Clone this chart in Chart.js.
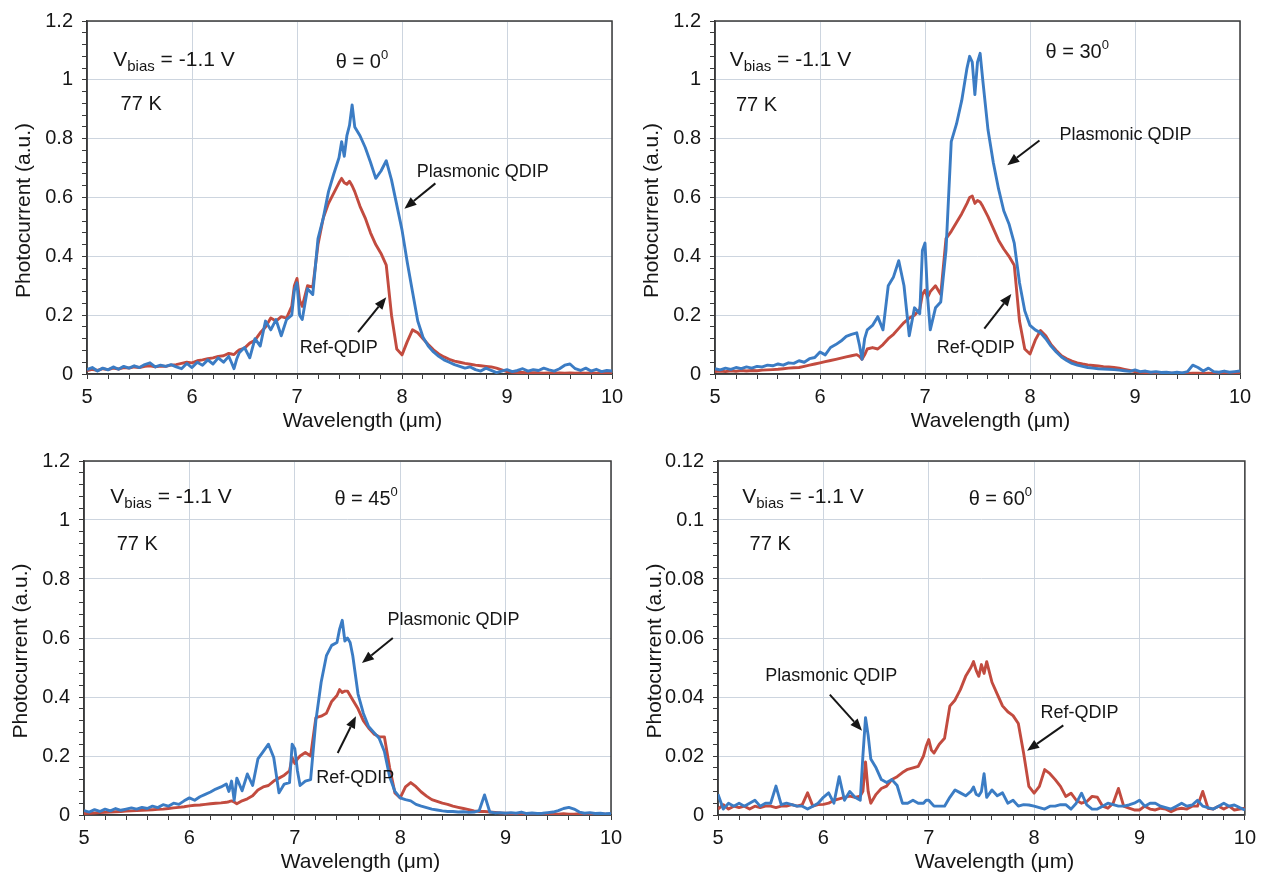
<!DOCTYPE html>
<html>
<head>
<meta charset="utf-8">
<title>Photocurrent spectra, Plasmonic vs Ref QDIP</title>
<script src="https://cdn.jsdelivr.net/npm/chart.js@4.4.1/dist/chart.umd.min.js"></script>
<style>
  html, body { margin: 0; padding: 0; background: #fff; }
  #wrap { position: relative; width: 1262px; height: 876px; }
  .panel { position: absolute; width: 631px; height: 438px; }
</style>
</head>
<body>
<div id="wrap">
  <div class="panel" style="left:0;top:0"><canvas id="c0" width="631" height="438"></canvas></div>
  <div class="panel" style="left:631px;top:0"><canvas id="c1" width="631" height="438"></canvas></div>
  <div class="panel" style="left:0;top:438px"><canvas id="c2" width="631" height="438"></canvas></div>
  <div class="panel" style="left:631px;top:438px"><canvas id="c3" width="631" height="438"></canvas></div>
</div>
<script>
// wavelength grid (um), a bit denser around the sharp features
const wavelength = [
  5.00, 5.05, 5.10, 5.15, 5.20, 5.25, 5.30, 5.35, 5.40, 5.45,
  5.50, 5.55, 5.60, 5.65, 5.70, 5.75, 5.80, 5.85, 5.90, 5.95,
  6.00, 6.05, 6.10, 6.15, 6.20, 6.25, 6.30, 6.35, 6.375, 6.40, 6.425, 6.45,
  6.50, 6.55, 6.60, 6.65, 6.70, 6.75, 6.80, 6.85, 6.90, 6.95,
  6.975, 7.00, 7.025, 7.05, 7.10, 7.15, 7.20, 7.25, 7.30, 7.35,
  7.40, 7.425, 7.45, 7.475, 7.50, 7.525, 7.55, 7.60, 7.65, 7.70, 7.75, 7.80, 7.85, 7.90, 7.95,
  8.00, 8.05, 8.10, 8.15, 8.20, 8.25, 8.30, 8.35, 8.40, 8.45,
  8.50, 8.55, 8.60, 8.65, 8.70, 8.75, 8.80, 8.85, 8.90, 8.95,
  9.00, 9.05, 9.10, 9.15, 9.20, 9.25, 9.30, 9.35, 9.40, 9.45,
  9.50, 9.55, 9.60, 9.65, 9.70, 9.75, 9.80, 9.85, 9.90, 9.95, 10.00
];

// theta = 0
const p1Plasmonic = [
  0.015, 0.022, 0.010, 0.020, 0.014, 0.024, 0.016, 0.026, 0.020, 0.028,
  0.022, 0.032, 0.038, 0.024, 0.030, 0.026, 0.032, 0.024, 0.018, 0.036,
  0.022, 0.040, 0.030, 0.048, 0.034, 0.055, 0.040, 0.060, 0.040, 0.018, 0.050, 0.072,
  0.090, 0.055, 0.120, 0.095, 0.180, 0.150, 0.185, 0.130, 0.185, 0.200,
  0.285, 0.310, 0.200, 0.185, 0.290, 0.270, 0.460, 0.530, 0.620, 0.680,
  0.735, 0.790, 0.740, 0.810, 0.845, 0.915, 0.840, 0.810, 0.770, 0.720, 0.665, 0.690, 0.725, 0.660, 0.575,
  0.490, 0.380, 0.280, 0.180, 0.125, 0.095, 0.075, 0.060, 0.048, 0.040,
  0.032, 0.026, 0.020, 0.024, 0.015, 0.010, 0.020, 0.012, 0.005, 0.010,
  0.015, 0.008, 0.012, 0.018, 0.010, 0.015, 0.012, 0.020, 0.014, 0.010,
  0.018, 0.030, 0.034, 0.018, 0.012, 0.020, 0.010, 0.016, 0.008, 0.012, 0.010
];
const p1Ref = [
  0.012, 0.016, 0.012, 0.018, 0.015, 0.020, 0.017, 0.022, 0.020, 0.024,
  0.022, 0.026, 0.028, 0.024, 0.027, 0.026, 0.030, 0.032, 0.036, 0.040,
  0.038, 0.045, 0.048, 0.052, 0.055, 0.060, 0.062, 0.070, 0.068, 0.066, 0.075, 0.082,
  0.088, 0.105, 0.115, 0.140, 0.160, 0.190, 0.180, 0.195, 0.190, 0.230,
  0.300, 0.325, 0.250, 0.230, 0.300, 0.295, 0.440, 0.530, 0.580, 0.615,
  0.650, 0.665, 0.650, 0.645, 0.655, 0.640, 0.620, 0.570, 0.530, 0.480, 0.440, 0.410, 0.370, 0.200, 0.085,
  0.065, 0.110, 0.150, 0.140, 0.120, 0.100, 0.082, 0.068, 0.058, 0.050,
  0.044, 0.040, 0.036, 0.033, 0.030, 0.028, 0.026, 0.024, 0.020, 0.014,
  0.008, 0.006, 0.005, 0.005, 0.004, 0.004, 0.004, 0.003, 0.004, 0.003,
  0.004, 0.003, 0.004, 0.003, 0.004, 0.003, 0.004, 0.003, 0.004, 0.003, 0.004
];

// theta = 30
const p2Plasmonic = [
  0.018, 0.014, 0.020, 0.016, 0.022, 0.018, 0.024, 0.020, 0.026, 0.024,
  0.030, 0.028, 0.034, 0.030, 0.038, 0.036, 0.045, 0.040, 0.052, 0.056,
  0.075, 0.065, 0.090, 0.100, 0.112, 0.128, 0.135, 0.140, 0.100, 0.050, 0.120, 0.150,
  0.165, 0.195, 0.150, 0.300, 0.330, 0.385, 0.300, 0.130, 0.225, 0.205,
  0.420, 0.445, 0.260, 0.150, 0.225, 0.245, 0.420, 0.790, 0.850, 0.930,
  1.040, 1.080, 1.060, 0.950, 1.060, 1.090, 1.000, 0.830, 0.720, 0.630, 0.555, 0.510, 0.445, 0.310, 0.215,
  0.165, 0.150, 0.140, 0.120, 0.095, 0.075, 0.058, 0.046, 0.036, 0.030,
  0.026, 0.022, 0.020, 0.018, 0.017, 0.016, 0.015, 0.013, 0.011, 0.009,
  0.014, 0.008, 0.010, 0.006, 0.008, 0.005, 0.006, 0.004, 0.006, 0.004,
  0.008, 0.030, 0.022, 0.010, 0.020, 0.008, 0.006, 0.010, 0.006, 0.008, 0.010
];
const p2Ref = [
  0.008, 0.010, 0.008, 0.011, 0.009, 0.012, 0.010, 0.012, 0.011, 0.013,
  0.014, 0.015, 0.016, 0.018, 0.020, 0.021, 0.022, 0.026, 0.030, 0.034,
  0.038, 0.042, 0.046, 0.050, 0.054, 0.058, 0.062, 0.066, 0.060, 0.050, 0.065, 0.085,
  0.090, 0.085, 0.100, 0.120, 0.135, 0.155, 0.175, 0.190, 0.200, 0.220,
  0.270, 0.285, 0.260, 0.280, 0.300, 0.270, 0.460, 0.485, 0.515, 0.545,
  0.580, 0.600, 0.605, 0.580, 0.590, 0.585, 0.570, 0.535, 0.495, 0.455, 0.425, 0.400, 0.370, 0.180, 0.085,
  0.068, 0.115, 0.148, 0.130, 0.100, 0.080, 0.062, 0.052, 0.044, 0.038,
  0.034, 0.031, 0.029, 0.027, 0.025, 0.024, 0.022, 0.020, 0.016, 0.012,
  0.008, 0.006, 0.005, 0.004, 0.004, 0.003, 0.003, 0.003, 0.002, 0.003,
  0.002, 0.003, 0.003, 0.002, 0.003, 0.002, 0.003, 0.002, 0.003, 0.002, 0.003
];

// theta = 45
const p3Plasmonic = [
  0.015, 0.010, 0.018, 0.012, 0.020, 0.014, 0.022, 0.016, 0.020, 0.024,
  0.020, 0.026, 0.022, 0.030, 0.025, 0.035, 0.030, 0.040, 0.036, 0.048,
  0.058, 0.050, 0.062, 0.070, 0.078, 0.088, 0.095, 0.105, 0.080, 0.115, 0.050, 0.125,
  0.082, 0.139, 0.100, 0.190, 0.215, 0.240, 0.195, 0.075, 0.105, 0.110,
  0.240, 0.225, 0.150, 0.100, 0.115, 0.120, 0.320, 0.450, 0.540, 0.575,
  0.585, 0.630, 0.660, 0.590, 0.600, 0.585, 0.540, 0.410, 0.345, 0.300, 0.280, 0.260, 0.215, 0.130, 0.080,
  0.058, 0.052, 0.048, 0.036, 0.030, 0.025, 0.020, 0.017, 0.014, 0.012,
  0.012, 0.010, 0.011, 0.009, 0.010, 0.015, 0.068, 0.010, 0.007, 0.008,
  0.006, 0.008, 0.006, 0.010, 0.005, 0.007, 0.005, 0.006, 0.008, 0.010,
  0.015, 0.022, 0.026, 0.020, 0.010, 0.006, 0.008, 0.005, 0.006, 0.004, 0.005
];
const p3Ref = [
  0.005, 0.006, 0.007, 0.008, 0.009, 0.010, 0.011, 0.012, 0.013, 0.014,
  0.015, 0.016, 0.017, 0.018, 0.019, 0.020, 0.022, 0.024, 0.026, 0.028,
  0.031, 0.033, 0.034, 0.036, 0.038, 0.040, 0.041, 0.043, 0.045, 0.048, 0.044, 0.038,
  0.048, 0.055, 0.065, 0.085, 0.095, 0.100, 0.115, 0.125, 0.135, 0.150,
  0.195, 0.175, 0.190, 0.200, 0.212, 0.200, 0.330, 0.335, 0.345, 0.385,
  0.405, 0.425, 0.415, 0.420, 0.420, 0.405, 0.390, 0.360, 0.320, 0.295, 0.275, 0.265, 0.265, 0.160, 0.075,
  0.058, 0.095, 0.110, 0.096, 0.078, 0.064, 0.052, 0.046, 0.040, 0.036,
  0.030, 0.026, 0.022, 0.018, 0.014, 0.012, 0.012, 0.010, 0.009, 0.007,
  0.006, 0.005, 0.005, 0.004, 0.004, 0.003, 0.004, 0.003, 0.003, 0.004,
  0.003, 0.004, 0.003, 0.003, 0.004, 0.003, 0.003, 0.003, 0.004, 0.003, 0.003
];

// theta = 60
const p4Plasmonic = [
  0.007, 0.002, 0.004, 0.003, 0.004, 0.003, 0.004, 0.005, 0.003, 0.004,
  0.004, 0.0098, 0.0035, 0.004, 0.0035, 0.003, 0.003, 0.002, 0.003, 0.004,
  0.006, 0.0075, 0.004, 0.013, 0.005, 0.008, 0.006, 0.005, 0.020, 0.033, 0.027, 0.019,
  0.016, 0.012, 0.011, 0.012, 0.010, 0.004, 0.004, 0.005, 0.004, 0.004,
  0.005, 0.005, 0.004, 0.003, 0.003, 0.003, 0.006, 0.0085, 0.0075, 0.0065,
  0.008, 0.0095, 0.007, 0.0065, 0.008, 0.014, 0.006, 0.0085, 0.0065, 0.0075, 0.004, 0.005, 0.003, 0.0035, 0.0034,
  0.003, 0.0025, 0.002, 0.003, 0.003, 0.0035, 0.0035, 0.002, 0.004, 0.0074,
  0.0034, 0.002, 0.002, 0.003, 0.004, 0.0035, 0.003, 0.003, 0.0034, 0.004,
  0.005, 0.003, 0.004, 0.004, 0.003, 0.0025, 0.002, 0.003, 0.004, 0.003,
  0.0034, 0.005, 0.003, 0.0025, 0.002, 0.003, 0.004, 0.003, 0.0034, 0.0025, 0.0017
];
const p4Ref = [
  0.002, 0.0035, 0.002, 0.003, 0.0025, 0.003, 0.002, 0.003, 0.0025, 0.003,
  0.003, 0.0025, 0.003, 0.003, 0.0035, 0.003, 0.0035, 0.0075, 0.003, 0.0035,
  0.0036, 0.004, 0.005, 0.0055, 0.006, 0.0064, 0.006, 0.0064, 0.008, 0.018, 0.008, 0.004,
  0.007, 0.009, 0.0098, 0.012, 0.013, 0.0144, 0.0155, 0.016, 0.0165, 0.020,
  0.0233, 0.0256, 0.022, 0.021, 0.024, 0.026, 0.0369, 0.039, 0.0425, 0.047,
  0.050, 0.052, 0.049, 0.047, 0.051, 0.048, 0.052, 0.045, 0.041, 0.037, 0.035, 0.0337, 0.031, 0.021, 0.0097,
  0.0074, 0.0097, 0.0154, 0.014, 0.012, 0.0097, 0.0063, 0.0074, 0.005, 0.004,
  0.0046, 0.0063, 0.006, 0.003, 0.0023, 0.004, 0.009, 0.003, 0.0023, 0.0017,
  0.0017, 0.003, 0.002, 0.0017, 0.0023, 0.002, 0.0011, 0.002, 0.0023, 0.002,
  0.003, 0.003, 0.008, 0.0023, 0.002, 0.003, 0.002, 0.003, 0.0017, 0.002, 0.0023
];

const angles = ['0', '30', '45', '60'];
const yMaxes = [1.2, 1.2, 1.2, 0.12];
const seriesNames = ['Plasmonic QDIP', 'Ref-QDIP'];

const FONT = "'Liberation Sans', Arial, sans-serif";
const BLUE = '#3b7cc4';
const RED = '#c24b3f';
const INK = '#161616';
const AXIS = '#3a3a3a';
const GRID = '#cdd5df';

// where each plot box sits in its canvas, and where the notes go (data units)
const panels = [
  { id: 'c0', plas: p1Plasmonic, ref: p1Ref, left: 87, right: 19, top: 18, xh: 64,
    bias: [5.25, 1.047], angle: [7.37, 1.041], temp: [5.32, 0.896],
    plasText: [8.14, 0.668], plasArrow: [8.318, 0.648, 8.023, 0.562],
    refText: [7.027, 0.072], refArrow: [7.581, 0.1426, 7.85, 0.2605] },
  { id: 'c1', plas: p2Plasmonic, ref: p2Ref, left: 84, right: 22, top: 18, xh: 64,
    bias: [5.14, 1.047], angle: [8.148, 1.075], temp: [5.20, 0.895],
    plasText: [8.28, 0.794], plasArrow: [8.09, 0.794, 7.784, 0.710],
    refText: [7.112, 0.070], refArrow: [7.565, 0.154, 7.822, 0.272] },
  { id: 'c2', plas: p3Plasmonic, ref: p3Ref, left: 84, right: 20, top: 23, xh: 61,
    bias: [5.25, 1.058], angle: [7.376, 1.052], temp: [5.31, 0.899],
    plasText: [7.88, 0.645], plasArrow: [7.93, 0.600, 7.637, 0.515],
    refText: [7.204, 0.108], refArrow: [7.407, 0.210, 7.58, 0.335] },
  { id: 'c3', plas: p4Plasmonic, ref: p4Ref, left: 87, right: 17, top: 23, xh: 61,
    bias: [5.23, 0.1058], angle: [7.379, 0.1052], temp: [5.30, 0.0899],
    plasText: [5.449, 0.0453], plasArrow: [6.061, 0.0408, 6.367, 0.0286],
    refText: [8.06, 0.0329], refArrow: [8.277, 0.0304, 7.933, 0.0218] }
];

function onStep(v, step) {
  const r = v / step;
  return Math.abs(r - Math.round(r)) < 1e-6;
}

function drawRich(ctx, x, y, parts) {
  let cx = x;
  parts.forEach(p => {
    ctx.font = p.size + 'px ' + FONT;
    ctx.fillText(p.text, cx, y + (p.dy || 0));
    cx += ctx.measureText(p.text).width;
  });
}

function drawArrow(ctx, x1, y1, x2, y2) {
  const a = Math.atan2(y2 - y1, x2 - x1);
  const head = 12, half = 4.8;
  const bx = x2 - head * Math.cos(a), by = y2 - head * Math.sin(a);
  ctx.strokeStyle = INK;
  ctx.fillStyle = INK;
  ctx.lineWidth = 2;
  ctx.beginPath();
  ctx.moveTo(x1, y1);
  ctx.lineTo(bx, by);
  ctx.stroke();
  ctx.beginPath();
  ctx.moveTo(x2, y2);
  ctx.lineTo(bx + half * Math.sin(a), by - half * Math.cos(a));
  ctx.lineTo(bx - half * Math.sin(a), by + half * Math.cos(a));
  ctx.closePath();
  ctx.fill();
}

function makePanel(p, i) {
  const yMax = yMaxes[i];
  const yMajor = yMax / 6;
  const yMinor = yMajor / 5;

  const notes = {
    id: 'notes' + i,
    beforeDatasetsDraw(chart) {
      const { ctx, chartArea: a } = chart;
      ctx.save();
      ctx.strokeStyle = AXIS;
      ctx.lineWidth = 1.5;
      ctx.strokeRect(a.left, a.top, a.right - a.left, a.bottom - a.top);
      ctx.restore();
    },
    afterDatasetsDraw(chart) {
      const { ctx, chartArea: a, scales: { x, y } } = chart;
      const px = v => x.getPixelForValue(v);
      const py = v => y.getPixelForValue(v);
      ctx.save();
      ctx.fillStyle = INK;
      ctx.textAlign = 'left';
      ctx.textBaseline = 'alphabetic';

      drawRich(ctx, px(p.bias[0]), py(p.bias[1]), [
        { text: 'V', size: 21 },
        { text: 'bias', size: 15, dy: 5 },
        { text: ' = -1.1 V', size: 21 }
      ]);
      drawRich(ctx, px(p.angle[0]), py(p.angle[1]), [
        { text: '\u03b8 = ' + angles[i], size: 20 },
        { text: '0', size: 13, dy: -9 }
      ]);
      drawRich(ctx, px(p.temp[0]), py(p.temp[1]), [{ text: '77 K', size: 20 }]);

      drawRich(ctx, px(p.plasText[0]), py(p.plasText[1]), [{ text: seriesNames[0], size: 18 }]);
      drawRich(ctx, px(p.refText[0]), py(p.refText[1]), [{ text: seriesNames[1], size: 18 }]);
      const pa = p.plasArrow, ra = p.refArrow;
      drawArrow(ctx, px(pa[0]), py(pa[1]), px(pa[2]), py(pa[3]));
      drawArrow(ctx, px(ra[0]), py(ra[1]), px(ra[2]), py(ra[3]));

      // axis titles
      ctx.fillStyle = INK;
      ctx.font = '21px ' + FONT;
      ctx.textAlign = 'center';
      ctx.textBaseline = 'middle';
      ctx.fillText('Wavelength (\u03bcm)', (a.left + a.right) / 2 + 13, a.bottom + 47);
      ctx.translate(a.left - 63, (a.top + a.bottom) / 2 + 13);
      ctx.rotate(-Math.PI / 2);
      ctx.fillText('Photocurrent (a.u.)', 0, 0);
      ctx.restore();
    }
  };

  const tickFont = { family: FONT, size: 20 };

  return new Chart(document.getElementById(p.id), {
    type: 'line',
    data: {
      datasets: [
        {
          label: seriesNames[0],
          data: wavelength.map((w, k) => ({ x: w, y: p.plas[k] })),
          borderColor: BLUE,
          borderWidth: 2.9,
          pointRadius: 0,
          tension: 0,
          borderJoinStyle: 'round'
        },
        {
          label: seriesNames[1],
          data: wavelength.map((w, k) => ({ x: w, y: p.ref[k] })),
          borderColor: RED,
          borderWidth: 2.9,
          pointRadius: 0,
          tension: 0,
          borderJoinStyle: 'round'
        }
      ]
    },
    options: {
      responsive: false,
      animation: false,
      devicePixelRatio: 1,
      layout: { padding: { left: 0, right: p.right, top: p.top, bottom: 0 } },
      plugins: { legend: { display: false }, tooltip: { enabled: false } },
      scales: {
        x: {
          type: 'linear',
          min: 5,
          max: 10,
          afterFit: s => { s.height = p.xh; },
          border: { display: true, color: AXIS, width: 1.5 },
          grid: {
            color: c => onStep(c.tick.value, 1) ? GRID : 'rgba(0,0,0,0)',
            lineWidth: 1,
            tickColor: AXIS,
            tickLength: 5
          },
          ticks: {
            stepSize: 0.2,
            autoSkip: false,
            maxRotation: 0,
            padding: 6,
            color: INK,
            font: tickFont,
            callback: v => onStep(v, 1) ? String(Math.round(v)) : ''
          }
        },
        y: {
          type: 'linear',
          min: 0,
          max: yMax,
          afterFit: s => { s.width = p.left; },
          border: { display: true, color: AXIS, width: 1.5 },
          grid: {
            color: c => onStep(c.tick.value, yMajor) ? GRID : 'rgba(0,0,0,0)',
            lineWidth: 1,
            tickColor: AXIS,
            tickLength: 5
          },
          ticks: {
            stepSize: yMinor,
            autoSkip: false,
            padding: 9,
            color: INK,
            font: tickFont,
            callback: v => onStep(v, yMajor) ? String(parseFloat(v.toFixed(4))) : ''
          }
        }
      }
    },
    plugins: [notes]
  });
}

panels.forEach(makePanel);
</script>
</body>
</html>
